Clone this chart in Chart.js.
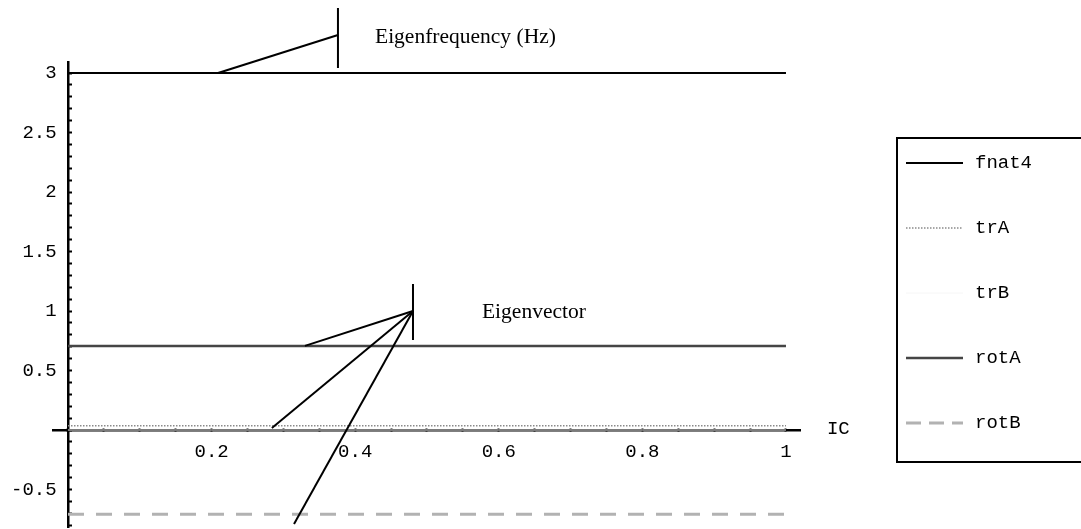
<!DOCTYPE html>
<html>
<head>
<meta charset="utf-8">
<title>fnat4 / eigenvector vs IC</title>
<script src="https://cdn.jsdelivr.net/npm/chart.js@4.4.1/dist/chart.umd.min.js"></script>
<style>
  html, body { margin: 0; padding: 0; background: #ffffff; }
  canvas { display: block; }
</style>
</head>
<body>
<canvas id="plot" width="1081" height="529"></canvas>
<script>
// IC sample positions shared by every series
const ic    = [0, 0.2, 0.4, 0.6, 0.8, 1];
// eigenfrequency (Hz)
const fnat4 = [3, 3, 3, 3, 3, 3];
// eigenvector components
const trA   = [0.035, 0.035, 0.035, 0.035, 0.035, 0.035];
const trB   = [0, 0, 0, 0, 0, 0];
const rotA  = [0.707, 0.707, 0.707, 0.707, 0.707, 0.707];
const rotB  = [-0.707, -0.707, -0.707, -0.707, -0.707, -0.707];

// labelled ticks (the rest are unlabelled minor ticks)
const xTickLabels = [0.2, 0.4, 0.6, 0.8, 1];
const yTickLabels = [-0.5, 0.5, 1, 1.5, 2, 2.5, 3];

// callout leaders, in data coordinates
const freqLeaderX = [0.209, 0.376];
const freqLeaderY = [3.0, 3.319];
const freqBarX    = [0.376, 0.376];
const freqBarY    = [3.546, 3.042];
const vecBarX     = [0.4805, 0.4805];
const vecBarY     = [1.227, 0.756];
const vecTipX     = 0.4805;
const vecTipY     = 1.0;
const vecEndX     = [0.330, 0.284, 0.3148];
const vecEndY     = [0.707, 0.017, -0.79];

// callout captions and their anchors (data coordinates)
const noteText = ['Eigenfrequency (Hz)', 'Eigenvector'];
const noteX    = [0.4276, 0.5766];
const noteY    = [3.252, 0.941];

const MONO  = '"Liberation Mono", "Courier New", monospace';
const SERIF = '"Liberation Serif", "Times New Roman", serif';

const seriesStyle = {
  fnat4: { color: '#000000', width: 2,   dash: [] },
  trA:   { color: '#8a8a8a', width: 1.5, dash: [1.5, 1.5] },
  trB:   { color: '#f6f6f6', width: 1,   dash: [] },
  rotA:  { color: '#454545', width: 2.5, dash: [] },
  rotB:  { color: '#b2b2b2', width: 3,   dash: [16, 12] }
};
const seriesValues = { fnat4, trA, trB, rotA, rotB };

const points = (xs, ys) => xs.map((x, i) => ({ x, y: ys[i] }));

const seriesSets = Object.keys(seriesValues).map(name => ({
  label: name,
  data: points(ic, seriesValues[name]),
  showLine: true,
  borderColor: seriesStyle[name].color,
  borderWidth: seriesStyle[name].width,
  borderDash: seriesStyle[name].dash,
  pointRadius: 0,
  fill: false,
  tension: 0
}));

const leader = (data) => ({
  label: '',
  callout: true,
  data,
  showLine: true,
  borderColor: '#000000',
  borderWidth: 2,
  pointRadius: 0,
  fill: false,
  tension: 0,
  clip: false
});

const leaderSets = [
  leader(points(freqLeaderX, freqLeaderY)),
  leader(points(freqBarX, freqBarY)),
  leader(points(vecBarX, vecBarY)),
  ...vecEndX.map((ex, i) => leader([{ x: vecTipX, y: vecTipY }, { x: ex, y: vecEndY[i] }]))
];

const fmt = v => String(Math.round(v * 100) / 100);
const hasLabel = (list, v) => list.some(t => Math.abs(t - v) < 1e-9);

const noPadding = s => { s.paddingTop = 0; s.paddingBottom = 0; s.paddingLeft = 0; s.paddingRight = 0; };

// captions next to the leaders plus the IC axis name
const notesPlugin = {
  id: 'notes',
  afterDraw(chart) {
    const { ctx, scales: { x, y } } = chart;
    ctx.save();
    ctx.fillStyle = '#000000';
    ctx.font = '21.5px ' + SERIF;
    ctx.textAlign = 'left';
    ctx.textBaseline = 'alphabetic';
    noteText.forEach((t, i) => {
      ctx.fillText(t, x.getPixelForValue(noteX[i]), y.getPixelForValue(noteY[i]));
    });
    ctx.font = '19px ' + MONO;
    ctx.textBaseline = 'middle';
    ctx.fillText('IC', x.getPixelForValue(1.057), y.getPixelForValue(0) - 1);
    ctx.restore();
  }
};

// framed legend on the right
const framedLegend = {
  id: 'framedLegend',
  afterDraw(chart) {
    const { ctx } = chart;
    const box = { left: 897, top: 138, width: 200, height: 324 };
    ctx.save();
    ctx.strokeStyle = '#000000';
    ctx.lineWidth = 2;
    ctx.strokeRect(box.left, box.top, box.width, box.height);
    const items = chart.data.datasets.filter(d => !d.callout);
    items.forEach((d, i) => {
      const rowY = 163 + i * 65;
      ctx.strokeStyle = d.borderColor;
      ctx.lineWidth = d.borderWidth;
      ctx.setLineDash(d.label === 'rotB' ? [15, 8] : (d.borderDash || []));
      ctx.beginPath();
      ctx.moveTo(906, rowY);
      ctx.lineTo(963, rowY);
      ctx.stroke();
      ctx.setLineDash([]);
      ctx.fillStyle = '#000000';
      ctx.font = '19px ' + MONO;
      ctx.textAlign = 'left';
      ctx.textBaseline = 'middle';
      ctx.fillText(d.label, 975, rowY);
    });
    ctx.restore();
  }
};

new Chart(document.getElementById('plot'), {
  type: 'scatter',
  data: { datasets: [...leaderSets, ...seriesSets] },
  options: {
    responsive: false,
    animation: false,
    events: [],
    layout: { padding: { left: 53.64, right: 280.66, top: 62.3, bottom: 2.0 } },
    plugins: {
      legend: { display: false },
      tooltip: { enabled: false }
    },
    scales: {
      x: {
        type: 'linear',
        min: -0.02,
        max: 1.02,
        position: { y: 0 },
        z: 1,
        afterFit: noPadding,
        border: { display: true, color: '#000000', width: 2.5 },
        grid: { display: true, drawOnChartArea: false, drawTicks: true, tickLength: -3, tickColor: '#000000', tickWidth: 2 },
        ticks: {
          stepSize: 0.05,
          includeBounds: false,
          autoSkip: false,
          maxRotation: 0,
          padding: 13.6,
          color: '#000000',
          font: { family: MONO, size: 19 },
          callback: v => hasLabel(xTickLabels, v) ? fmt(v) : ''
        }
      },
      y: {
        type: 'linear',
        min: -0.815,
        max: 3.09,
        position: { x: 0 },
        z: 1,
        afterFit: noPadding,
        border: { display: true, color: '#000000', width: 2.5 },
        grid: { display: true, drawOnChartArea: false, drawTicks: true, tickLength: -5, tickColor: '#000000', tickWidth: 2 },
        ticks: {
          stepSize: 0.1,
          includeBounds: false,
          autoSkip: false,
          color: '#000000',
          font: { family: MONO, size: 19 },
          // a trailing space keeps the right-aligned label clear of the axis line
          callback: v => hasLabel(yTickLabels, v) ? fmt(v) + ' ' : ''
        }
      }
    }
  },
  plugins: [notesPlugin, framedLegend]
});
</script>
</body>
</html>
